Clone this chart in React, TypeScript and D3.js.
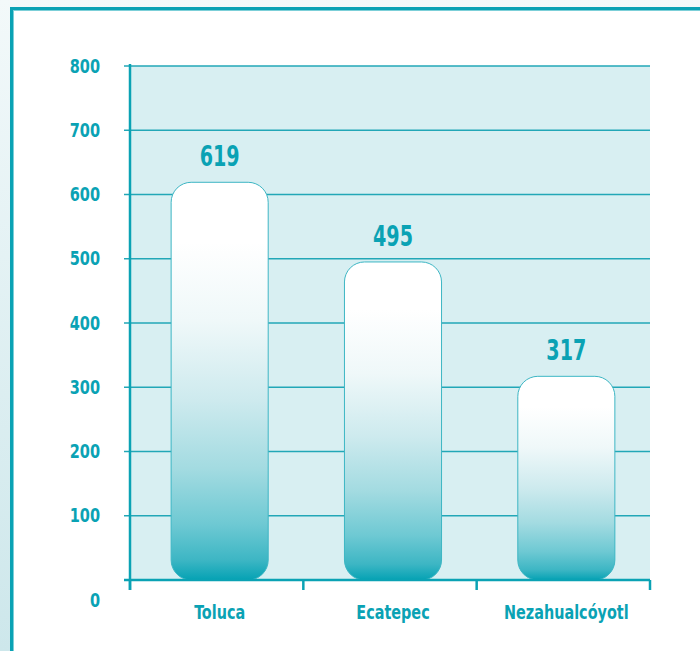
import React from "react"
import * as d3 from "d3"

const categories = ["Toluca", "Ecatepec", "Nezahualcóyotl"]
const values = [619, 495, 317]
const yTicks = [0, 100, 200, 300, 400, 500, 600, 700, 800]

const teal = "#0aa2b4"
const font = "'Liberation Sans Narrow', 'DejaVu Sans Condensed', 'Roboto', sans-serif"

// condensed bold label, squeezed horizontally to look like the original's narrow face
const Label = (props: { x: number; y: number; size: number; sx: number; anchor: string; dy?: string; children: any }) => (
  <text
    transform={`translate(${props.x},${props.y}) scale(${props.sx},1)`}
    dy={props.dy}
    textAnchor={props.anchor}
    fontFamily={font}
    fontWeight="bold"
    fontSize={props.size}
    fill={teal}
  >
    {props.children}
  </text>
)

export default function App() {
  const width = 700
  const height = 651
  const left = 130
  const right = 650
  const top = 66
  const bottom = 580

  const y = d3.scaleLinear().domain([0, 800]).range([bottom, top])
  const xBars = d3.scaleBand().domain(categories).range([left + 3, right + 3]).paddingInner(0.44).paddingOuter(0.22)
  const xTicks = d3.scaleBand().domain(categories).range([left, right]).padding(0)
  const tickXs = [...categories.map((c) => xTicks(c)), right]

  return (
    <div style={{ position: "absolute", left: 0, top: 0 }}>
      <svg width={width} height={height} style={{ display: "block" }}>
        <defs>
          <linearGradient id="bg" x1="0" y1="0" x2="0" y2="1">
            <stop offset="0%" stopColor="#f3f9fa" />
            <stop offset="100%" stopColor="#cde7eb" />
          </linearGradient>
          <linearGradient id="bar" x1="0" y1="0" x2="0" y2="1">
            <stop offset="0%" stopColor="#ffffff" />
            <stop offset="15%" stopColor="#ffffff" />
            <stop offset="35%" stopColor="#eff8f9" />
            <stop offset="55%" stopColor="#cdeaee" />
            <stop offset="72%" stopColor="#a3dbe1" />
            <stop offset="86%" stopColor="#6ec9d3" />
            <stop offset="95%" stopColor="#3db6c4" />
            <stop offset="100%" stopColor="#05a2b4" />
          </linearGradient>
        </defs>
        <rect x={0} y={0} width={width} height={height} fill="url(#bg)" />
        {/* card */}
        <rect x={11.5} y={8.5} width={720} height={700} fill="#ffffff" stroke={teal} strokeWidth={3} />
        <rect x={13.5} y={10.5} width={720} height={700} fill="none" stroke="#7ccfd8" strokeWidth={1} />

        {/* plot area */}
        <rect x={left} y={top} width={right - left} height={bottom - top} fill="#d8eff2" />
        {yTicks.filter((t) => t > 0).map((t) => (
          <line key={t} x1={left - 6} x2={right} y1={y(t)} y2={y(t)} stroke="#22a7b7" strokeWidth={1.3} />
        ))}

        {/* bars */}
        {categories.map((c, i) => {
          const cx = xBars(c)! + xBars.bandwidth() / 2
          return (
            <g key={c}>
              <rect
                x={xBars(c)}
                y={y(values[i])}
                width={xBars.bandwidth()}
                height={bottom - y(values[i])}
                rx={20}
                ry={20}
                fill="url(#bar)"
                stroke="#3db6c4"
                strokeWidth={1}
              />
              <Label x={cx} y={y(values[i]) - 16} size={28} sx={0.76} anchor="middle">
                {values[i]}
              </Label>
              <Label x={cx} y={619} size={20} sx={0.8} anchor="middle">
                {c}
              </Label>
            </g>
          )
        })}

        {/* axes */}
        <line x1={left} x2={left} y1={top - 2} y2={bottom + 10} stroke={teal} strokeWidth={2.5} />
        <line x1={left - 6} x2={right} y1={bottom} y2={bottom} stroke={teal} strokeWidth={2.5} />
        {tickXs.map((tx, i) => (
          <line key={i} x1={tx} x2={tx} y1={bottom} y2={bottom + 10} stroke={teal} strokeWidth={2.5} />
        ))}
        {yTicks.map((t) => (
          <Label key={t} x={100} y={t === 0 ? 600 : y(t)} dy="0.35em" size={19} sx={0.85} anchor="end">
            {t}
          </Label>
        ))}
      </svg>
    </div>
  )
}
